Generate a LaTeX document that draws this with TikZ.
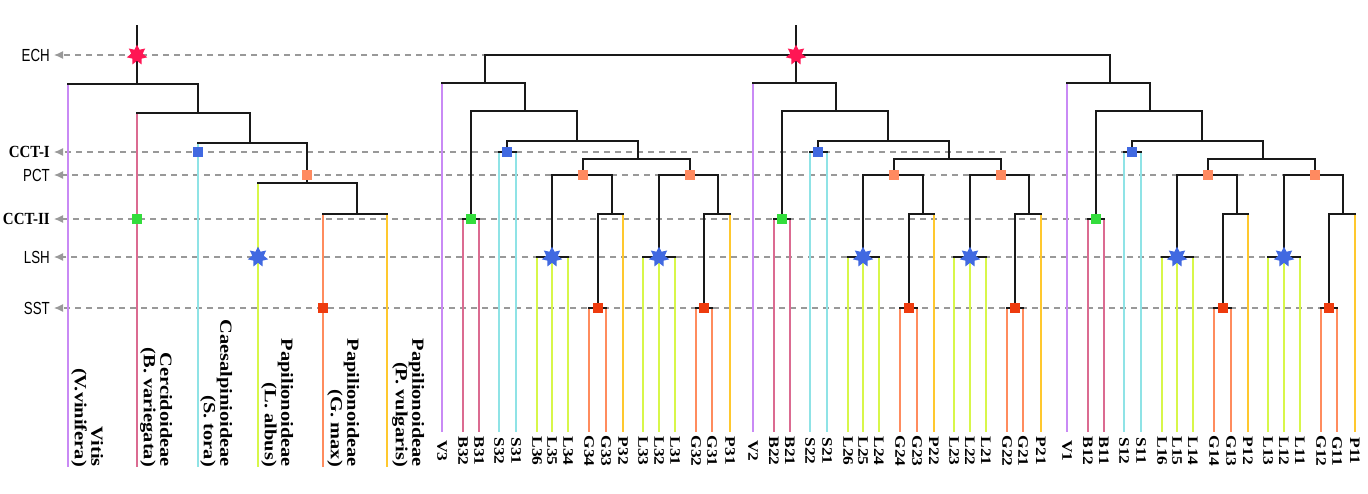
\documentclass[tikz,border=0pt]{standalone}
\usepackage{fontspec}
\setmainfont{Liberation Serif}
\newfontfamily\lvlsans[FakeStretch=0.76]{Liberation Sans}
\newfontfamily\lvlserif[FakeStretch=0.88]{Liberation Serif}
\newfontfamily\leafserif[FakeStretch=1.2]{Liberation Serif}
\usetikzlibrary{shapes.geometric,arrows.meta,backgrounds}

\definecolor{vitC}{HTML}{C98AF5}
\definecolor{cerC}{HTML}{DB6B91}
\definecolor{caeC}{HTML}{8FE3E6}
\definecolor{lupC}{HTML}{D8F74A}
\definecolor{glyC}{HTML}{FF8C5E}
\definecolor{phaC}{HTML}{FFC82E}
\definecolor{grnC}{HTML}{33DD3C}
\definecolor{bluC}{HTML}{4169E1}
\definecolor{orgC}{HTML}{FF8A60}
\definecolor{redC}{HTML}{EE3B0E}
\definecolor{pinkC}{HTML}{FF1654}

\tikzset{
  branch/.style={line width=2.7pt, line cap=rect, black!90},
  leaf/.style={line width=2.4pt},
  level/.style={draw=black!40, line width=1.2pt, dash pattern=on 6pt off 5pt,
    -{Latex[length=9pt,width=8pt]}, shorten >=4pt},
  sqmark/.style={fill=#1, minimum size=10.5pt, inner sep=0pt},
  starmark/.style={star, star points=7, star point ratio=1.8, fill=#1,
    minimum size=21pt, inner sep=0pt},
  lvltag/.style={anchor=east, inner sep=0pt},
  lvlA/.style={lvltag, font=\lvlsans\fontsize{17.5}{17.5}\selectfont},
  lvlB/.style={lvltag, font=\lvlserif\bfseries\fontsize{17}{17}\selectfont},
  taxon/.style={rotate=-90, anchor=south east, align=right, inner sep=0pt,
    font=\leafserif\bfseries\fontsize{17}{16.5}\selectfont},
  acc/.style={rotate=-90, inner sep=0pt,
    font=\leafserif\bfseries\fontsize{14.5}{14.5}\selectfont},
}

\begin{document}
\begin{tikzpicture}[x=1pt,y=-1pt]
\useasboundingbox (0,0) rectangle (1368,493);

% level names
\node[lvlA] (ECH) at (50,55) {ECH};
\node[lvlB] (CCTI) at (50,152) {CCT-I};
\node[lvlA] (PCT) at (50,175) {PCT};
\node[lvlB] (CCTII) at (50,219) {CCT-II};
\node[lvlA] (LSH) at (50,257) {LSH};
\node[lvlA] (SST) at (50,308) {SST};

% species tree
\coordinate (lStem) at (137,26);
\coordinate (lR) at (137,84);
\coordinate (l1) at (198,113);
\coordinate (l2) at (250,143);
\coordinate (l3) at (307,183);
\coordinate (l4) at (357,214);
\foreach \n/\x/\y/\c in {vit/68/84/vitC, cer/137/113/cerC, cae/198/143/caeC,
    lup/258/183/lupC, gly/323/214/glyC, pha/387/214/phaC}{
  \coordinate (\n) at (\x,\y);
  \coordinate (\n-end) at (\x,467);
  \draw[leaf,line width=2.6pt,\c] (\n) -- (\n-end);
}
\draw[branch] (lStem) -- (lR);
\draw[branch] (vit) |- (lR) -| (l1);
\draw[branch] (cer) |- (l1) -| (l2);
\draw[branch] (cae) |- (l2) -| (l3);
\draw[branch] (lup) |- (l3) -| (l4);
\draw[branch] (gly) -- (pha);

\node[starmark=pinkC] (lECH) at (137,55) {};
\node[sqmark=grnC] (lB) at (137,219) {};
\node[sqmark=bluC] (lS) at (198,152) {};
\node[sqmark=orgC] (lP) at (307,175) {};
\node[starmark=bluC] (lL) at (258,257) {};
\node[sqmark=redC] (lG) at (323,308) {};

\node[taxon] (vitT) at (71,467) {Vitis\\(V.vinifera)};
\node[taxon] (cerT) at (140,467) {Cercidoideae\\(B. variegata)};
\node[taxon] (caeT) at (200,467) {Caesalpinioideae\\(S. tora)};
\node[taxon] (lupT) at (261,467) {Papilionoideae\\(L. albus)};
\node[taxon] (glyT) at (327,467) {Papilionoideae\\(G. max)};
\node[taxon] (phaT) at (392,467) {Papilionoideae\\(P. vulgaris)};

% gene trees, three copies
\foreach \k/\dx in {3/0,2/311,1/625}{
\begin{scope}[xshift=\dx pt, name prefix=t\k-]
  \coordinate (T) at (485,83);
  \coordinate (A) at (525,111);
  \coordinate (Bn) at (471,219);
  \coordinate (C) at (577,141);
  \coordinate (Sn) at (507,152);
  \coordinate (D) at (638,159);
  \coordinate (E) at (583,175);
  \coordinate (La) at (552,257);
  \coordinate (Ga) at (612,214);
  \coordinate (Gb) at (598,308);
  \coordinate (F) at (690,175);
  \coordinate (Lb) at (659,257);
  \coordinate (Gc) at (718,214);
  \coordinate (Gd) at (704,308);
  \foreach \p/\s/\x/\y/\c in {V//442/83/vitC, B/2/463/219/cerC, B/1/479/219/cerC,
      S/2/499/152/caeC, S/1/516/152/caeC, L/6/537/257/lupC, L/5/552/257/lupC,
      L/4/568/257/lupC, G/4/589/308/glyC, G/3/606/308/glyC, P/2/623/214/phaC,
      L/3/643/257/lupC, L/2/659/257/lupC, L/1/675/257/lupC, G/2/696/308/glyC,
      G/1/712/308/glyC, P/1/730/214/phaC}{
    \coordinate (\p\s) at (\x,\y);
    \coordinate (\p\s-end) at (\x,432);
    \draw[leaf,\c] (\p\s) -- (\p\s-end);
    \node[acc] (\p\s-lab) at (\x,451) {\p\k\s};
  }
  \draw[branch] (V) |- (T) -| (A);
  \draw[branch] (Bn) |- (A) -| (C);
  \draw[branch] (B2) -- (B1);
  \draw[branch] (Sn) |- (C) -| (D);
  \draw[branch] (S2) -- (S1);
  \draw[branch] (E) |- (D) -| (F);
  \draw[branch] (La) |- (E) -| (Ga);
  \draw[branch] (L6) -- (L4);
  \draw[branch] (Gb) |- (Ga) -| (P2);
  \draw[branch] (G4) -- (G3);
  \draw[branch] (Lb) |- (F) -| (Gc);
  \draw[branch] (L3) -- (L1);
  \draw[branch] (Gd) |- (Gc) -| (P1);
  \draw[branch] (G2) -- (G1);
  \node[sqmark=grnC] (mB) at (Bn) {};
  \node[sqmark=bluC] (mS) at (Sn) {};
  \node[sqmark=orgC] (mE) at (E) {};
  \node[sqmark=orgC] (mF) at (F) {};
  \node[starmark=bluC] (mLa) at (La) {};
  \node[starmark=bluC] (mLb) at (Lb) {};
  \node[sqmark=redC] (mGb) at (Gb) {};
  \node[sqmark=redC] (mGd) at (Gd) {};
\end{scope}
}
\coordinate (Top) at (796,55);
\coordinate (rStem) at (796,26);
\draw[branch] (t3-T) |- (Top) -| (t1-T);
\draw[branch] (rStem) -- (t2-T);
\node[starmark=pinkC] (rECH) at (Top) {};

% event levels
\begin{scope}[on background layer]
\draw[level] (Top) -- (ECH);
\draw[level] (t1-mS) -- (CCTI);
\draw[level] (t1-mF) -- (PCT);
\draw[level] (t1-mB) -- (CCTII);
\draw[level] (t1-mLb) -- (LSH);
\draw[level] (t1-mGd) -- (SST);
\end{scope}
\end{tikzpicture}
\end{document}
